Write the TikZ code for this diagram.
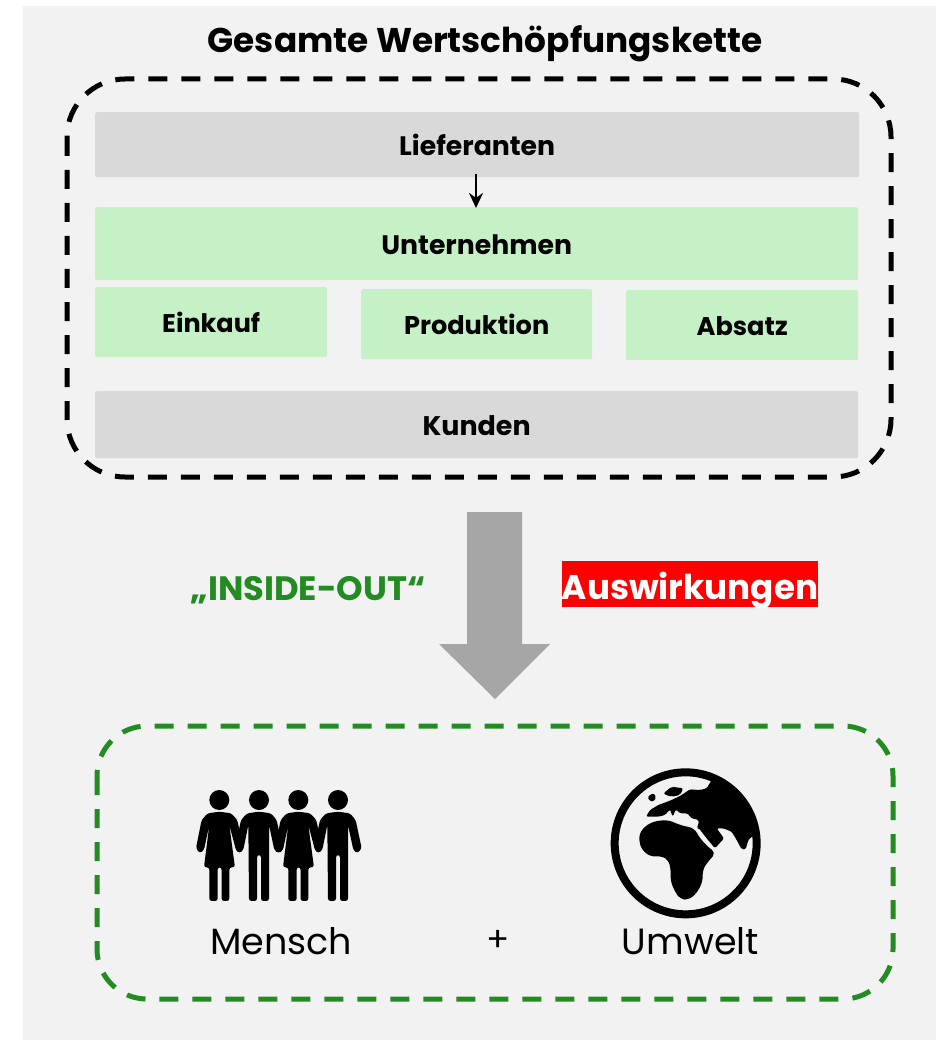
\documentclass[tikz,border=0pt]{standalone}
\usepackage{fontspec}
\setmainfont{Poppins}
\usetikzlibrary{arrows.meta}
\definecolor{bgc}{HTML}{F2F2F2}
\definecolor{grayc}{HTML}{D9D9D9}
\definecolor{greenc}{HTML}{C6F1C6}
\definecolor{dgreen}{HTML}{228B22}
\definecolor{arrowc}{HTML}{A6A6A6}
\newcommand{\lowertext}[2]{\raisebox{-#1}[\height][\depth]{#2}}
\newcommand{\bsize}[1]{\fontsize{#1}{30}\selectfont\bfseries}
\tikzset{
  blockbox/.style={fill=#1,draw=none,rounded corners=2pt,inner sep=0pt,anchor=north west,font=\bsize{26.7}},
  lbl/.style={inner sep=0pt,font=\fontsize{36.5}{40}\selectfont},
  dashframe/.style={draw=#1,line width=5pt,dash pattern=on 19pt off 14pt,fill=none},
}
\newcommand{\womanfig}[2]{%
\begin{scope}[shift={(#1,#2)},x=0.3333pt,y=-0.3333pt]
\fill (0,0) circle (30);
\fill[rounded corners=2.5pt] (0,35) -- (-35,40) -- (-53,60) -- (-70,145) -- (-58,160) -- (-46,150) -- (-30,75) -- (-46,202) -- (-30,202) -- (-30,303) -- (-5,303) -- (-5,202) -- (7,202) -- (7,303) -- (30,303) -- (30,202) -- (47,202) -- (30,75) -- (50,150) -- (60,160) -- (72,145) -- (54,60) -- (36,40) -- cycle;
\end{scope}}
\newcommand{\manfig}[2]{%
\begin{scope}[shift={(#1,#2)},x=0.3333pt,y=-0.3333pt]
\fill (0,0) circle (30);
\fill[rounded corners=2.5pt] (0,35) -- (-36,40) -- (-54,60) -- (-72,145) -- (-59,160) -- (-47,150) -- (-32,75) -- (-30,303) -- (-6,303) -- (-6,165) -- (6,165) -- (6,303) -- (30,303) -- (30,75) -- (46,150) -- (58,160) -- (71,145) -- (53,60) -- (36,40) -- cycle;
\end{scope}}
\begin{document}
\begin{tikzpicture}[x=1pt,y=-1pt]
\useasboundingbox (0,0) rectangle (936,1040);
\fill[bgc] (23,6) rectangle (936,1040);
\node[lbl,font=\fontsize{34.3}{40}\selectfont\bfseries] (title) at (485,44) {Gesamte Wertschöpfungskette};
\draw[dashframe=black,rounded corners=58pt] (67,79) rectangle (891,477);
\path (95,112) node[blockbox=grayc,minimum width=764pt,minimum height=65pt] (lief) {Lieferanten};
\path (95,207) node[blockbox=greenc,minimum width=763pt,minimum height=73pt] (unt) {\lowertext{1pt}{Unternehmen}};
\path (95,287) node[blockbox=greenc,minimum width=232pt,minimum height=70pt,font=\bsize{25.5}] (ein) {Einkauf};
\path (361,289) node[blockbox=greenc,minimum width=231pt,minimum height=70pt,font=\bsize{25.6}] (prod) {Produktion};
\path (626,290) node[blockbox=greenc,minimum width=232pt,minimum height=70pt,font=\bsize{25.6}] (abs) {\lowertext{1pt}{Absatz}};
\path (95,391) node[blockbox=grayc,minimum width=763pt,minimum height=67pt,font=\bsize{26.9}] (kun) {\lowertext{1pt}{Kunden}};
\coordinate (liefout) at (476,174);
\coordinate (untin) at (476,208);
\draw[line width=2.6pt,-{Stealth[length=15pt,width=14pt]}] (liefout) -- (untin);
\fill[arrowc] (467,512) -- (522,512) -- (522,644) -- (550,644) -- (495,699) -- (439,644) -- (467,644) -- cycle;
\node[lbl,text=dgreen,font=\fontsize{33.8}{38}\selectfont\bfseries] (inside) at (308,590) {„INSIDE-OUT“};
\node[fill=red,text=white,inner sep=0pt,minimum width=256pt,minimum height=46pt,font=\fontsize{34.2}{40}\selectfont\bfseries] (ausw) at (690,584) {\lowertext{6pt}{Auswirkungen}};
\draw[dashframe=dgreen,rounded corners=50pt] (97,726) rectangle (893,999);
\womanfig{219.3}{800}
\manfig{259}{800}
\womanfig{298.3}{800}
\manfig{338}{800}
\begin{scope}[shift={(600,760)},x=0.3333pt,y=-0.3333pt]
\draw[line width=8pt] (257,250) circle (213);
\begin{scope}
\clip (257,250) circle (213);
\fill[rounded corners=1.5pt] (335,60) -- (320,85) -- (300,90) -- (270,88) -- (240,108) -- (210,122) -- (175,135) -- (150,150) -- (138,170) -- (175,170) -- (195,165) -- (210,148) -- (218,170) -- (228,148) -- (240,160) -- (262,160) -- (275,175) -- (296,180) -- (296,191) -- (290,205) -- (297,205) -- (320,235) -- (345,265) -- (372,235) -- (350,205) -- (370,205) -- (395,215) -- (410,240) -- (425,268) -- (437,268) -- (445,240) -- (458,228) -- (500,228) -- (500,40) -- cycle;
\end{scope}
\fill[rounded corners=2pt] (190,100) -- (215,80) -- (250,85) -- (240,105) -- (215,110) -- (200,106) -- cycle;
\fill[rounded corners=1.5pt] (143,110) -- (160,99) -- (169,112) -- (160,125) -- (148,122) -- cycle;
\fill[rounded corners=5pt] (116,225) -- (135,198) -- (165,183) -- (205,180) -- (240,195) -- (283,205) -- (300,235) -- (325,262) -- (348,278) -- (320,310) -- (308,330) -- (308,365) -- (290,400) -- (265,420) -- (240,417) -- (225,395) -- (212,365) -- (212,325) -- (205,300) -- (185,288) -- (150,290) -- (122,265) -- cycle;
\end{scope}
\node[lbl] (mensch) at (281,941) {Mensch};
\node[lbl,font=\fontsize{34}{36}\selectfont] (plus) at (498,941) {+};
\node[lbl] (umwelt) at (690.5,941) {Umwelt};
\end{tikzpicture}
\end{document}
